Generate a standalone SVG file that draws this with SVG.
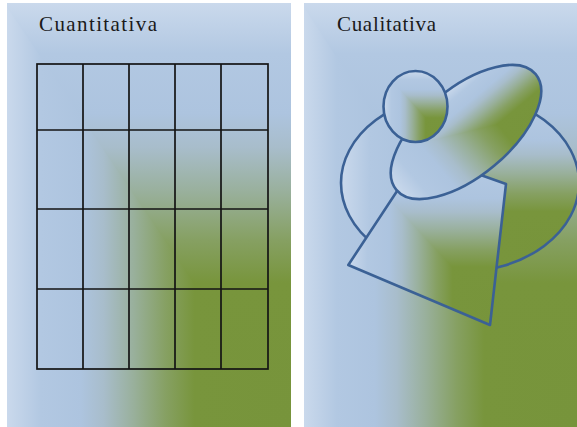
<svg xmlns="http://www.w3.org/2000/svg" width="577" height="427" viewBox="0 0 577 427">
<style>
.h{fill:url(#gh)}
.v{fill:url(#gv);clip-path:url(#tr)}
.o{fill:none;stroke:#3b6195;stroke-width:2.6;stroke-linejoin:round}
.grid{fill:none;stroke:#141414;stroke-width:1.7}
.lbl{font-family:"Liberation Serif","DejaVu Serif",serif;font-size:21px;fill:#1a1a1a}
</style>
<defs>
<linearGradient id="gh" x1="1" y1="0" x2="0" y2="0">
<stop offset="0" stop-color="#77943b"/>
<stop offset="0.34" stop-color="#78953c"/>
<stop offset="0.44" stop-color="#86a062"/>
<stop offset="0.555" stop-color="#99b09c"/>
<stop offset="0.66" stop-color="#a8bdcb"/>
<stop offset="0.74" stop-color="#adc4df"/>
<stop offset="0.88" stop-color="#b2c8e2"/>
<stop offset="1" stop-color="#cad9ec"/>
</linearGradient>
<linearGradient id="gv" x1="0" y1="1" x2="0" y2="0">
<stop offset="0" stop-color="#77943b"/>
<stop offset="0.34" stop-color="#78953c"/>
<stop offset="0.44" stop-color="#86a062"/>
<stop offset="0.555" stop-color="#99b09c"/>
<stop offset="0.66" stop-color="#a8bdcb"/>
<stop offset="0.74" stop-color="#adc4df"/>
<stop offset="0.88" stop-color="#b2c8e2"/>
<stop offset="1" stop-color="#cad9ec"/>
</linearGradient>
<clipPath id="tr" clipPathUnits="objectBoundingBox"><polygon points="-0.01,0 1.01,0 1.01,1.01"/></clipPath>
<rect id="p1" x="7" y="3" width="284" height="424"/>
<rect id="p2" x="304" y="3" width="273" height="424"/>
<ellipse id="bigE" cx="460" cy="183" rx="119" ry="89"/>
<polygon id="quad" points="421.5,154 506,184 490,325 348.3,265"/>
<ellipse id="tiltE" cx="0" cy="0" rx="90.5" ry="44"/>
<ellipse id="circ" cx="415.5" cy="106.5" rx="32" ry="35.5"/>
</defs>

<g id="panel-cuantitativa">
<use href="#p1" class="h"/>
<use href="#p1" class="v"/>
<text class="lbl" x="39" y="30.5" textLength="118" lengthAdjust="spacing">Cuantitativa</text>
<g id="grid" class="grid">
<rect x="37" y="64" width="231" height="305"/>
<path d="M83,64V369M129,64V369M175,64V369M221,64V369M37,130H268M37,209H268M37,289H268"/>
</g>
</g>

<g id="panel-cualitativa">
<use href="#p2" class="h"/>
<use href="#p2" class="v"/>
<text class="lbl" x="337" y="30.5" textLength="99" lengthAdjust="spacing">Cualitativa</text>
<g id="big-ellipse">
<use href="#bigE" class="h"/>
<use href="#bigE" class="v"/>
<use href="#bigE" class="o"/>
</g>
<g id="quadrilateral">
<use href="#quad" class="h"/>
<use href="#quad" class="v"/>
<use href="#quad" class="o"/>
</g>
<g id="tilted-ellipse" transform="translate(466,132) rotate(-39.7)">
<use href="#tiltE" class="h"/>
<use href="#tiltE" class="v"/>
<use href="#tiltE" class="o"/>
</g>
<g id="small-circle">
<use href="#circ" class="h"/>
<use href="#circ" class="v"/>
<use href="#circ" class="o"/>
</g>
</g>
</svg>
